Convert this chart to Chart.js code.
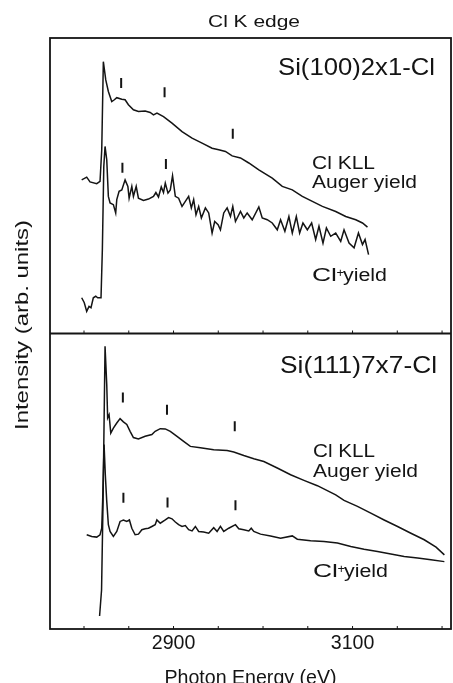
<!DOCTYPE html>
<html>
<head>
<meta charset="utf-8">
<title>Cl K edge</title>
<script src="https://cdn.jsdelivr.net/npm/chart.js@4.4.1/dist/chart.umd.min.js"></script>
<style>
  html, body { margin: 0; padding: 0; background: #fff; }
  #wrap { width: 453px; height: 683px; }
</style>
</head>
<body>
<div id="wrap"><canvas id="chart" width="453" height="683"></canvas></div>
<script>
// Photon energy (eV) / intensity (arb. units, 0-100 per panel)
const topAuger = [
    [2797.4, 52.0], [2803.0, 52.9], [2806.7, 51.3], [2814.2, 50.7], [2817.9, 51.5],
    [2819.8, 62.2], [2821.6, 92.0], [2824.3, 85.8], [2827.2, 81.9], [2831.0, 78.5],
    [2833.9, 79.1], [2836.6, 79.8], [2842.2, 79.3], [2845.9, 79.1], [2849.6, 77.4],
    [2855.2, 75.7], [2860.8, 75.1], [2868.3, 75.3], [2873.9, 74.8], [2877.6, 74.0],
    [2881.5, 74.6], [2888.8, 73.4], [2898.3, 71.2], [2909.5, 68.3], [2920.7, 66.1],
    [2931.9, 64.4], [2943.1, 62.7], [2950.5, 62.2], [2958.0, 61.6], [2965.5, 60.1],
    [2974.8, 59.4], [2984.1, 57.7], [2995.3, 55.4], [3010.3, 52.6], [3021.5, 49.8],
    [3032.7, 48.6], [3043.9, 46.4], [3055.1, 44.7], [3066.3, 43.0], [3081.2, 41.3],
    [3092.4, 39.6], [3103.6, 38.5], [3111.1, 37.4], [3116.7, 36.0]
];

const topIon = [
    [2797.4, 12.1], [2800.3, 10.4], [2803.0, 7.5], [2805.6, 9.2], [2807.8, 8.7],
    [2810.4, 12.1], [2813.1, 12.6], [2815.3, 12.1], [2819.0, 12.1], [2820.5, 28.4],
    [2822.1, 56.5], [2823.5, 63.3], [2825.4, 58.8], [2827.2, 46.4], [2829.1, 44.2],
    [2832.8, 43.6], [2835.4, 40.8], [2836.6, 45.3], [2839.2, 48.1], [2842.2, 48.6],
    [2845.9, 52.0], [2849.0, 49.8], [2850.4, 45.8], [2853.4, 49.8], [2855.2, 46.4],
    [2858.3, 49.8], [2860.8, 45.8], [2866.4, 45.0], [2872.0, 45.5], [2877.6, 46.4],
    [2880.3, 47.7], [2883.2, 46.2], [2886.3, 49.6], [2888.8, 47.7], [2890.8, 50.9],
    [2893.8, 47.5], [2896.4, 48.6], [2898.9, 53.4], [2902.0, 46.4], [2905.7, 45.8],
    [2909.5, 43.0], [2913.2, 44.7], [2916.9, 46.4], [2919.9, 42.5], [2922.5, 45.3],
    [2925.1, 40.2], [2928.1, 43.0], [2931.1, 39.1], [2935.6, 42.5], [2939.3, 40.8],
    [2943.1, 34.0], [2946.0, 37.9], [2949.8, 36.8], [2952.4, 35.1], [2956.1, 40.8],
    [2959.9, 42.5], [2963.6, 39.6], [2966.2, 43.0], [2969.2, 37.9], [2974.8, 41.3],
    [2978.5, 39.1], [2982.3, 40.8], [2987.9, 38.5], [2995.3, 42.8], [2999.1, 39.1],
    [3004.7, 38.5], [3010.3, 37.4], [3015.9, 35.1], [3019.6, 38.5], [3024.4, 34.6],
    [3028.9, 39.6], [3032.7, 34.0], [3037.2, 39.6], [3040.9, 34.0], [3044.6, 37.4],
    [3049.5, 35.1], [3054.3, 37.4], [3058.8, 31.8], [3062.5, 36.3], [3067.0, 30.6],
    [3070.8, 35.7], [3075.6, 32.9], [3081.2, 34.0], [3086.8, 31.2], [3090.5, 35.1],
    [3096.1, 30.6], [3101.7, 29.0], [3106.6, 34.0], [3111.1, 30.1], [3114.0, 31.8],
    [3117.9, 26.7]
];

const botAuger = [
    [2817.4, 4.4], [2819.6, 13.2], [2821.3, 43.7], [2823.5, 95.7], [2825.4, 82.7],
    [2826.4, 71.4], [2828.0, 72.5], [2829.9, 66.3], [2832.8, 68.0], [2836.6, 69.7],
    [2840.3, 71.2], [2844.0, 70.1], [2847.8, 69.2], [2851.5, 66.9], [2855.2, 64.8],
    [2860.8, 64.3], [2868.3, 65.2], [2875.8, 65.8], [2879.5, 66.9], [2885.2, 67.8],
    [2890.8, 67.7], [2896.4, 66.9], [2903.9, 65.2], [2911.3, 63.5], [2918.8, 61.8],
    [2930.0, 61.3], [2944.9, 60.7], [2959.9, 60.4], [2967.3, 59.9], [2978.5, 58.7],
    [2989.7, 57.6], [3000.9, 56.7], [3015.9, 54.5], [3030.8, 52.2], [3045.7, 50.3],
    [3060.7, 48.5], [3081.2, 45.4], [3090.5, 43.5], [3105.5, 41.5], [3120.4, 39.2],
    [3135.3, 36.9], [3150.3, 34.7], [3165.2, 32.4], [3180.1, 30.2], [3193.3, 27.7],
    [3202.6, 25.1]
];

const botIon = [
    [2803.0, 31.9], [2808.6, 31.3], [2814.2, 31.1], [2817.9, 31.9], [2819.8, 34.1],
    [2820.8, 43.2], [2822.4, 62.4], [2823.8, 52.2], [2825.4, 43.2], [2827.2, 35.3],
    [2829.1, 33.0], [2832.8, 31.3], [2836.6, 33.0], [2840.3, 36.4], [2844.0, 36.9],
    [2847.8, 36.4], [2850.7, 36.9], [2853.4, 34.1], [2857.1, 31.9], [2860.8, 32.1],
    [2864.6, 33.6], [2868.3, 33.9], [2872.0, 34.1], [2875.8, 34.7], [2879.5, 35.3],
    [2881.4, 36.9], [2885.2, 35.8], [2890.8, 36.9], [2894.5, 37.7], [2898.3, 37.3],
    [2902.0, 36.2], [2905.7, 35.3], [2909.5, 34.7], [2913.2, 35.0], [2916.9, 33.6],
    [2920.7, 33.2], [2924.4, 34.7], [2928.1, 33.0], [2933.7, 32.8], [2939.3, 32.4],
    [2944.9, 34.3], [2948.7, 33.0], [2952.4, 34.7], [2956.1, 33.0], [2961.7, 34.1],
    [2969.2, 35.3], [2972.9, 33.9], [2978.5, 33.6], [2984.1, 33.2], [2986.8, 34.1],
    [2989.7, 33.0], [2997.2, 32.1], [3008.4, 31.5], [3019.6, 30.7], [3032.7, 31.5],
    [3038.3, 30.4], [3053.2, 29.9], [3068.1, 29.6], [3083.1, 29.1], [3098.0, 27.9],
    [3112.9, 27.0], [3127.9, 26.2], [3142.8, 25.4], [3157.7, 24.5], [3172.7, 24.0],
    [3187.6, 23.4], [3202.6, 22.8]
];

// fine-structure markers (energy, height)
const topAugerMarks = [[2841.5, 84.8], [2890.0, 81.6], [2966.2, 67.6]];
const topIonMarks = [[2842.9, 56.1], [2891.5, 57.4]];
const botAugerMarks = [[2843.4, 78.3], [2892.7, 74.2], [2968.4, 68.6]];
const botIonMarks = [[2844.0, 44.4], [2893.3, 42.8], [2969.2, 41.9]];

const tickValues = [2800, 2850, 2900, 2950, 3000, 3050, 3100, 3150, 3200];
const labeledTicks = [2900, 3100];

const FONT = "'Liberation Sans', Arial, Helvetica, sans-serif";
const INK = '#141414';

function pts(list) {
    return list.map(p => ({ x: p[0], y: p[1] }));
}

function curve(list, axis) {
    return {
        data: pts(list), yAxisID: axis,
        borderColor: INK, borderWidth: 1.5,
        pointRadius: 0, tension: 0, fill: false
    };
}

function marks(list, axis) {
    return {
        data: pts(list), yAxisID: axis, showLine: false,
        pointStyle: 'line', rotation: 90, pointRadius: 5,
        pointBorderColor: INK, pointBorderWidth: 2, borderColor: INK
    };
}

// the scanned lettering is a bit wider than the font, so stretch to width
function fitText(ctx, text, x, y, size, width, center) {
    ctx.font = size + 'px ' + FONT;
    const w = ctx.measureText(text).width;
    ctx.save();
    ctx.translate(center ? x - width / 2 : x, y);
    ctx.scale(width / w, 1);
    ctx.fillText(text, 0, 0);
    ctx.restore();
}

function ionLabel(ctx, x, y) {
    fitText(ctx, 'Cl', x, y, 18, 25);
    ctx.font = '13px ' + FONT;
    ctx.fillText('+', x + 24.5, y - 4);
    fitText(ctx, 'yield', x + 31, y, 18, 44);
}

const framePlugin = {
    id: 'frame',
    afterDraw(chart) {
        const { ctx, chartArea: a, scales } = chart;
        const mid = scales.yTop.bottom;
        ctx.save();
        ctx.strokeStyle = INK;
        ctx.lineWidth = 1.8;
        ctx.strokeRect(a.left, a.top, a.right - a.left, a.bottom - a.top);
        ctx.beginPath();
        ctx.moveTo(a.left, mid);
        ctx.lineTo(a.right, mid);
        ctx.stroke();

        // inward tick marks on the divider and the bottom axis
        ctx.lineWidth = 1;
        ctx.beginPath();
        scales.x.ticks.forEach(t => {
            const px = scales.x.getPixelForValue(t.value);
            ctx.moveTo(px, mid);
            ctx.lineTo(px, mid - 3);
            ctx.moveTo(px, a.bottom);
            ctx.lineTo(px, a.bottom - 3);
        });
        ctx.stroke();

        ctx.fillStyle = INK;
        ctx.textBaseline = 'alphabetic';
        fitText(ctx, 'Cl K edge', 208, 27, 17, 92);
        fitText(ctx, 'Si(100)2x1-Cl', 278, 74.5, 24.5, 157);
        fitText(ctx, 'Cl KLL', 312, 169, 18, 63);
        fitText(ctx, 'Auger yield', 312, 187.5, 18, 105);
        ionLabel(ctx, 312, 281);

        fitText(ctx, 'Si(111)7x7-Cl', 280, 372.7, 24.5, 157);
        fitText(ctx, 'Cl KLL', 313, 457, 18, 62);
        fitText(ctx, 'Auger yield', 313, 476.5, 18, 105);
        ionLabel(ctx, 313, 576.5);

        ctx.translate(28, 325);
        ctx.rotate(-Math.PI / 2);
        fitText(ctx, 'Intensity (arb. units)', 0, 0, 19, 210, true);
        ctx.restore();
    }
};

new Chart(document.getElementById('chart'), {
    type: 'line',
    data: {
        datasets: [
            curve(topAuger, 'yTop'),
            curve(topIon, 'yTop'),
            curve(botAuger, 'yBot'),
            curve(botIon, 'yBot'),
            marks(topAugerMarks, 'yTop'),
            marks(topIonMarks, 'yTop'),
            marks(botAugerMarks, 'yBot'),
            marks(botIonMarks, 'yBot')
        ]
    },
    options: {
        responsive: false,
        animation: false,
        events: [],
        layout: { autoPadding: false, padding: { left: 50, right: 2, top: 38, bottom: 0 } },
        plugins: { legend: { display: false }, tooltip: { enabled: false } },
        scales: {
            x: {
                type: 'linear',
                min: 2762,
                max: 3210,
                afterBuildTicks(scale) {
                    scale.ticks = tickValues.map(v => ({ value: v }));
                },
                afterFit(scale) {
                    scale.height = 54;
                    scale.paddingLeft = 0;
                    scale.paddingRight = 0;
                },
                grid: { display: false, drawTicks: false },
                border: { display: false },
                ticks: {
                    autoSkip: false,
                    maxRotation: 0,
                    padding: 3,
                    color: INK,
                    font: { family: FONT, size: 19.6 },
                    callback: v => labeledTicks.includes(v) ? String(v) : ''
                },
                title: {
                    display: true,
                    text: 'Photon Energy (eV)',
                    color: INK,
                    font: { family: FONT, size: 19.6 },
                    padding: { top: 0, bottom: -7 }
                }
            },
            yBot: { type: 'linear', min: 0, max: 100, stack: 'panels', stackWeight: 1, display: false },
            yTop: { type: 'linear', min: 0, max: 100, stack: 'panels', stackWeight: 1, display: false }
        }
    },
    plugins: [framePlugin]
});
</script>
</body>
</html>
